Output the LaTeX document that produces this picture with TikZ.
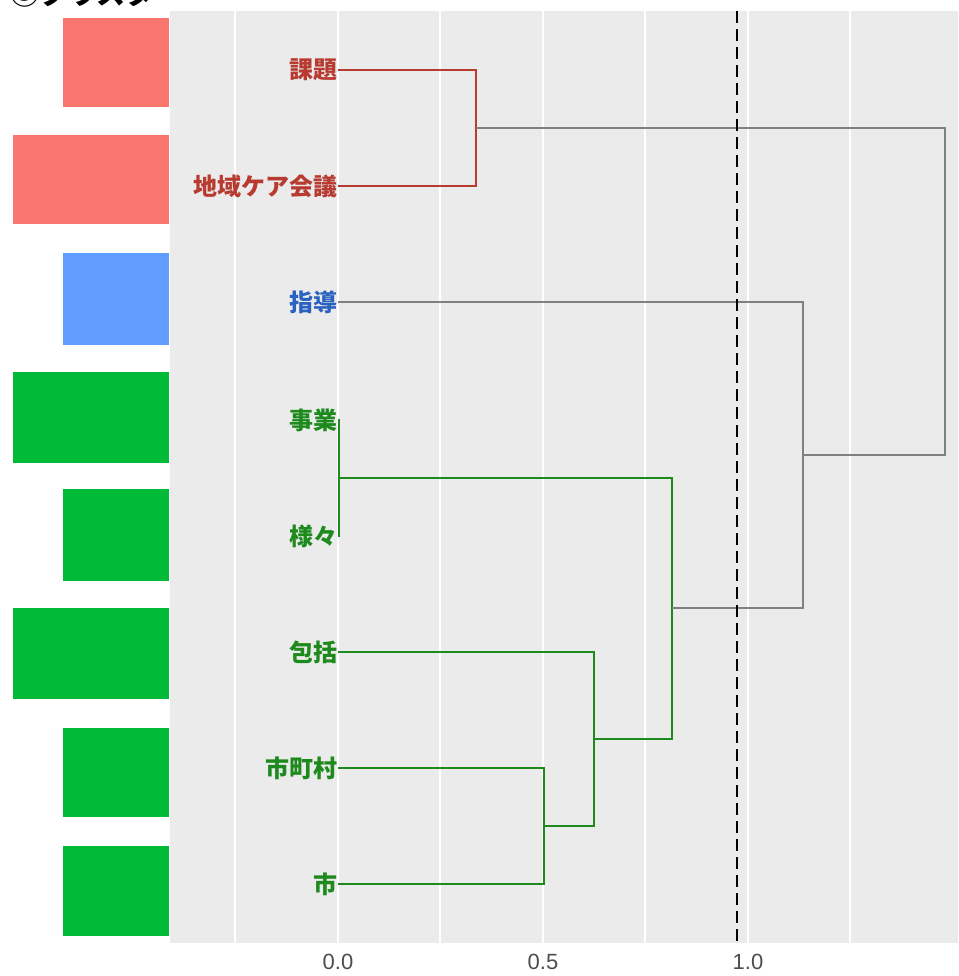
\documentclass[tikz,border=0pt]{standalone}
\usepackage{fontspec}
\setmainfont{Liberation Sans}
\newfontfamily\jpfont{Noto Sans CJK JP}
\usetikzlibrary{positioning}

\definecolor{panelGray}{HTML}{EBEBEB}
\definecolor{barRed}{HTML}{F8766D}
\definecolor{barBlue}{HTML}{619CFF}
\definecolor{barGreen}{HTML}{00BA38}
\definecolor{lineRed}{HTML}{B83B32}
\definecolor{lineGreen}{HTML}{1E8A1E}
\definecolor{labelBlue}{HTML}{2A62C0}
\definecolor{lineGray}{HTML}{808080}
\definecolor{tickText}{HTML}{4D4D4D}

\begin{document}
\begin{tikzpicture}[x=1pt, y=-1pt]
	\tikzstyle{leaf} = [anchor=east, inner sep=0pt, font=\jpfont\bfseries\fontsize{24}{28}\selectfont]
	\tikzstyle{redBranch} = [line width=2.2pt, lineRed]
	\tikzstyle{greenBranch} = [line width=2.2pt, lineGreen]
	\tikzstyle{grayBranch} = [line width=2.2pt, lineGray]
	\tikzstyle{majorGrid} = [white, line width=2.2pt]
	\tikzstyle{minorGrid} = [white, line width=1.1pt]
	\tikzstyle{tickLabel} = [anchor=north, inner sep=0pt, text=tickText, font=\fontsize{22}{24}\selectfont]
	\tikzstyle{cutLine} = [black, line width=2.8pt, dash pattern=on 12pt off 6pt]
	\useasboundingbox (0,0) rectangle (958,976);
	% title, cut off at the top
	\begin{scope}
		\clip (0,0) rectangle (958,11);
		\node (title) [anchor=base west, inner sep=0pt, font=\jpfont\bfseries\fontsize{29}{34}\selectfont] at (10,5) {③クラスター};
	\end{scope}
	% side bars
	\fill [barRed] (63,18) rectangle (169,107);
	\fill [barRed] (13,135) rectangle (169,224);
	\fill [barBlue] (63,253) rectangle (169,345);
	\fill [barGreen] (13,372) rectangle (169,463);
	\fill [barGreen] (63,489) rectangle (169,581);
	\fill [barGreen] (13,608) rectangle (169,699);
	\fill [barGreen] (63,728) rectangle (169,817);
	\fill [barGreen] (63,846) rectangle (169,936);
	% panel and grid
	\fill [panelGray] (170,11) rectangle (958,943);
	\foreach \gx in {235,440,645,850} \draw [minorGrid] (\gx,11) -- (\gx,943);
	\foreach \gx in {338,543,748} \draw [majorGrid] (\gx,11) -- (\gx,943);
	\node (tick0) [tickLabel] at (338,954) {0.0};
	\node (tick1) [tickLabel] at (543,954) {0.5};
	\node (tick2) [tickLabel] at (748,954) {1.0};
	% leaves
	\node (kadai) [leaf, text=lineRed] at (338,70) {課題};
	\node (chiikiCareKaigi) [leaf, text=lineRed] at (338,186) {地域ケア会議};
	\node (shido) [leaf, text=labelBlue] at (338,302) {指導};
	\node (jigyo) [leaf, text=lineGreen] at (338,420) {事業};
	\node (samazama) [leaf, text=lineGreen] at (338,536) {様々};
	\node (hokatsu) [leaf, text=lineGreen] at (338,652) {包括};
	\node (shichoson) [leaf, text=lineGreen] at (338,768) {市町村};
	\node (shi) [leaf, text=lineGreen] at (338,884) {市};
	% merge points
	\coordinate (merge1) at (476,128);
	\coordinate (merge2) at (339,478);
	\coordinate (merge3) at (544,826);
	\coordinate (merge4) at (594,739);
	\coordinate (merge5) at (672,608);
	\coordinate (merge6) at (803,455);
	\coordinate (merge7) at (945,290);
	\draw [redBranch] (kadai.east) -| (merge1);
	\draw [redBranch] (chiikiCareKaigi.east) -| (merge1);
	\draw [greenBranch] (jigyo.east) -| (merge2);
	\draw [greenBranch] (samazama.east) -| (merge2);
	\draw [greenBranch] (shichoson.east) -| (merge3);
	\draw [greenBranch] (shi.east) -| (merge3);
	\draw [greenBranch] (hokatsu.east) -| (merge4);
	\draw [greenBranch] (merge3) -| (merge4);
	\draw [greenBranch] (merge2) -| (merge5);
	\draw [greenBranch] (merge4) -| (merge5);
	\draw [grayBranch] (shido.east) -| (merge6);
	\draw [grayBranch] (merge5) -| (merge6);
	\draw [grayBranch] (merge1) -| (merge7);
	\draw [grayBranch] (merge6) -| (merge7);
	% cut height
	\coordinate (cutTop) at (737,11);
	\coordinate (cutBottom) at (737,943);
	\draw [cutLine] (cutTop) -- (cutBottom);
\end{tikzpicture}
\end{document}
